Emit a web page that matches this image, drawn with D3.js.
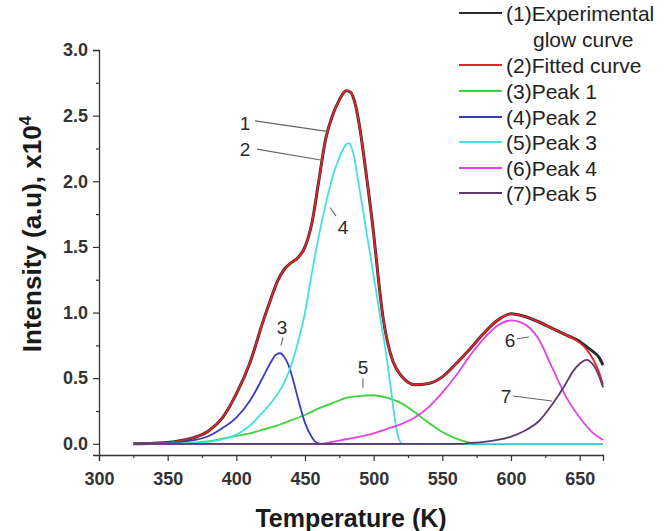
<!DOCTYPE html>
<html>
<head>
<meta charset="utf-8">
<script src="https://cdn.jsdelivr.net/npm/d3@7"></script>
<style>
  html, body { margin: 0; padding: 0; background: #fff; }
  svg { display: block; }
  text { font-family: "Liberation Sans", Arial, sans-serif; }
</style>
</head>
<body>
<svg id="chart" width="664" height="531"></svg>
<script>
// ---------- data ----------
const xTicks = [300, 350, 400, 450, 500, 550, 600, 650];
const xMinorTicks = [325, 375, 425, 475, 525, 575, 625];
const yTicks = [0.0, 0.5, 1.0, 1.5, 2.0, 2.5, 3.0];
const yMinorTicks = [0.25, 0.75, 1.25, 1.75, 2.25, 2.75];

// (1) Experimental glow curve
const expT = [325, 340, 350, 360, 370, 380, 390, 400, 410, 420, 425, 430, 435, 440, 445, 450, 455, 460, 465, 470, 475, 480, 483, 487, 490, 495, 500, 503, 507, 510, 514, 520, 525, 530, 540, 550, 560, 570, 580, 590, 600, 610, 620, 630, 640, 650, 655, 660, 664, 667];
const expI = [0.0, 0.005, 0.01, 0.025, 0.05, 0.1, 0.2, 0.38, 0.62, 0.95, 1.1, 1.24, 1.33, 1.38, 1.42, 1.5, 1.68, 2.0, 2.32, 2.5, 2.62, 2.69, 2.68, 2.57, 2.4, 2.02, 1.6, 1.3, 0.95, 0.78, 0.63, 0.52, 0.47, 0.45, 0.46, 0.51, 0.61, 0.72, 0.84, 0.94, 0.99, 0.97, 0.93, 0.88, 0.83, 0.78, 0.74, 0.7, 0.66, 0.6];
// (2) Fitted curve
const fitT = [325, 340, 350, 360, 370, 380, 390, 400, 410, 420, 425, 430, 435, 440, 445, 450, 455, 460, 465, 470, 475, 480, 483, 487, 490, 495, 500, 503, 507, 510, 514, 520, 525, 530, 540, 550, 560, 570, 580, 590, 600, 610, 620, 630, 640, 650, 655, 660, 664, 667];
const fitI = [0.0, 0.005, 0.01, 0.025, 0.05, 0.1, 0.2, 0.38, 0.62, 0.95, 1.1, 1.24, 1.33, 1.38, 1.42, 1.5, 1.68, 2.0, 2.32, 2.5, 2.62, 2.69, 2.68, 2.57, 2.4, 2.02, 1.6, 1.3, 0.95, 0.78, 0.63, 0.52, 0.47, 0.45, 0.46, 0.51, 0.61, 0.72, 0.84, 0.94, 0.99, 0.97, 0.93, 0.88, 0.83, 0.77, 0.72, 0.64, 0.55, 0.45];
// (3) Peak 1
const p1T = [325, 360, 370, 380, 390, 400, 410, 420, 430, 440, 450, 460, 470, 480, 490, 500, 510, 520, 530, 540, 550, 560, 570, 575, 667];
const p1I = [0.0, 0.0, 0.01, 0.02, 0.04, 0.06, 0.08, 0.11, 0.14, 0.18, 0.22, 0.27, 0.31, 0.35, 0.365, 0.37, 0.35, 0.31, 0.24, 0.16, 0.09, 0.04, 0.01, 0.0, 0.0];
// (4) Peak 2
const p2T = [325, 350, 360, 370, 380, 390, 400, 410, 415, 420, 425, 429, 432, 435, 438, 441, 445, 450, 455, 459, 462, 667];
const p2I = [0.0, 0.005, 0.015, 0.03, 0.06, 0.12, 0.2, 0.33, 0.42, 0.52, 0.62, 0.68, 0.69, 0.66, 0.6, 0.5, 0.34, 0.16, 0.05, 0.005, 0.0, 0.0];
// (5) Peak 3
const p3T = [325, 370, 380, 390, 400, 410, 420, 430, 435, 440, 445, 450, 455, 460, 465, 470, 475, 480, 482, 485, 490, 495, 500, 505, 510, 513, 516, 518, 521, 667];
const p3I = [0.0, 0.005, 0.015, 0.035, 0.07, 0.14, 0.25, 0.38, 0.47, 0.6, 0.78, 1.0, 1.3, 1.58, 1.82, 2.03, 2.18, 2.28, 2.29, 2.22, 1.92, 1.6, 1.28, 0.95, 0.62, 0.38, 0.15, 0.05, 0.0, 0.0];
// (6) Peak 4
const p4T = [325, 460, 470, 480, 490, 500, 510, 520, 530, 540, 550, 560, 570, 580, 590, 600, 610, 620, 630, 640, 650, 660, 667];
const p4I = [0.0, 0.0, 0.015, 0.035, 0.055, 0.08, 0.115, 0.15, 0.2, 0.28, 0.39, 0.52, 0.67, 0.8, 0.9, 0.94, 0.91, 0.8, 0.58, 0.36, 0.2, 0.08, 0.03];
// (7) Peak 5
const p5T = [325, 565, 570, 580, 590, 600, 610, 620, 630, 640, 645, 650, 655, 660, 664, 667];
const p5I = [0.0, 0.0, 0.005, 0.015, 0.03, 0.055, 0.1, 0.17, 0.3, 0.46, 0.55, 0.61, 0.64, 0.6, 0.52, 0.43];

const seriesNames = ["(1)Experimental", "(2)Fitted curve", "(3)Peak 1", "(4)Peak 2", "(5)Peak 3", "(6)Peak 4", "(7)Peak 5"];
const seriesColors = ["#2b2b2b", "#e3242b", "#3bd43b", "#3a3ac4", "#44e0e0", "#e044e0", "#5b3b6b"];

// annotation numbers with leader lines: [label, labelT, labelI, fromT, fromI, toT, toI]
const annotations = [
  ["1", 406.3, 2.44, 413.6, 2.46, 466, 2.38],
  ["2", 406.3, 2.24, 415, 2.245, 462.4, 2.16],
  ["3", 433.3, 0.89, 434, 0.81, 432.5, 0.75],
  ["4", 477.7, 1.65, 468.2, 1.8, 472.6, 1.735],
  ["5", 492.2, 0.585, 492.2, 0.5, 492.2, 0.425],
  ["6", 599.3, 0.79, 604.4, 0.8, 613.1, 0.814],
  ["7", 596.4, 0.357, 601.5, 0.364, 629.9, 0.326]
];

// ---------- drawing ----------
const svg = d3.select("#chart");
const x = d3.scaleLinear().domain([300, 667]).range([99, 603]);
const y = d3.scaleLinear().domain([-0.085, 3.0]).range([455, 50]);

const fontFam = '"Liberation Sans", Arial, sans-serif';

// axes
const xAxis = svg.append("g").attr("transform", "translate(0,455)")
  .call(d3.axisBottom(x).tickValues(xTicks).tickSize(6).tickPadding(11).tickFormat(d3.format("d")));
svg.append("g").attr("transform", "translate(0,455)")
  .call(d3.axisBottom(x).tickValues(xMinorTicks).tickSize(3).tickFormat(""))
  .select(".domain").remove();
const yAxis = svg.append("g").attr("transform", "translate(99,0)")
  .call(d3.axisLeft(y).tickValues(yTicks).tickSize(6).tickPadding(5).tickFormat(d3.format(".1f")));
svg.append("g").attr("transform", "translate(99,0)")
  .call(d3.axisLeft(y).tickValues(yMinorTicks).tickSize(3).tickFormat(""))
  .select(".domain").remove();

svg.selectAll(".domain").attr("stroke", "#333").attr("stroke-width", 1.3);
svg.selectAll(".tick line").attr("stroke", "#333").attr("stroke-width", 1.2);
xAxis.selectAll(".tick text").attr("font-size", 18).attr("font-weight", "bold")
  .attr("fill", "#333").attr("font-family", fontFam);
yAxis.selectAll(".tick text").attr("font-size", 18).attr("font-weight", "bold")
  .attr("fill", "#333").attr("font-family", fontFam);

// axis titles
svg.append("text").attr("x", 351).attr("y", 527).attr("text-anchor", "middle")
  .attr("font-size", 25).attr("font-weight", "bold").attr("fill", "#1a1a1a")
  .text("Temperature (K)");
const yt = svg.append("text").attr("transform", "translate(41,234) rotate(-90)")
  .attr("text-anchor", "middle").attr("font-size", 26).attr("font-weight", "bold").attr("fill", "#1a1a1a");
yt.append("tspan").text("Intensity (a.u), x10");
yt.append("tspan").attr("font-size", 17).attr("dy", -10).text("4");

// curves
const seriesData = [
  [expT, expI], [fitT, fitI], [p1T, p1I], [p2T, p2I], [p3T, p3I], [p4T, p4I], [p5T, p5I]
];
const widths = [3.0, 1.8, 1.8, 1.8, 1.8, 1.8, 1.8];
const line = d3.line().x(d => x(d[0])).y(d => y(d[1])).curve(d3.curveMonotoneX);
seriesData.forEach((s, i) => {
  const pts = s[0].map((t, j) => [t, s[1][j]]);
  svg.append("path").datum(pts).attr("d", line)
    .attr("fill", "none").attr("stroke", seriesColors[i]).attr("stroke-width", widths[i])
    .attr("stroke-linejoin", "round");
});

// annotations
annotations.forEach(a => {
  svg.append("line").attr("x1", x(a[3])).attr("y1", y(a[4])).attr("x2", x(a[5])).attr("y2", y(a[6]))
    .attr("stroke", "#666").attr("stroke-width", 1.1);
  svg.append("text").attr("x", x(a[1])).attr("y", y(a[2])).attr("text-anchor", "middle")
    .attr("dominant-baseline", "central").attr("font-size", 19).attr("fill", "#2a2a2a").text(a[0]);
});

// legend
const legRows = [13, 65, 91, 117, 142, 168, 193];
seriesNames.forEach((n, i) => {
  svg.append("line").attr("x1", 459).attr("x2", 502).attr("y1", legRows[i]).attr("y2", legRows[i])
    .attr("stroke", seriesColors[i]).attr("stroke-width", 2);
  svg.append("text").attr("x", 506).attr("y", legRows[i]).attr("dominant-baseline", "central")
    .attr("font-size", 21).attr("fill", "#222").text(n);
});
svg.append("text").attr("x", 533).attr("y", 39).attr("dominant-baseline", "central")
  .attr("font-size", 21).attr("fill", "#222").text("glow curve");
</script>
</body>
</html>
